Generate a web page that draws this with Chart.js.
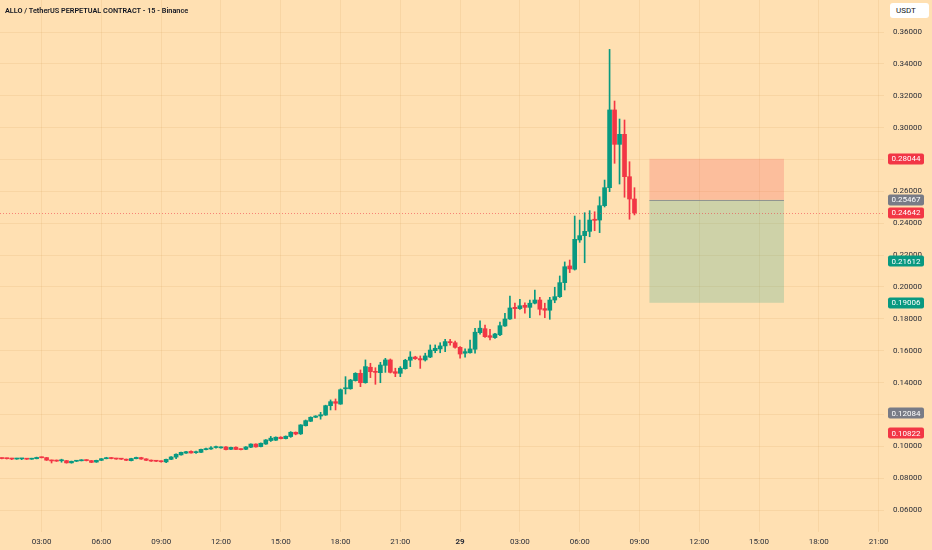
<!doctype html>
<html lang="en">
<head>
<meta charset="utf-8">
<title>ALLO / TetherUS PERPETUAL CONTRACT - 15 - Binance</title>
<script src="https://cdn.jsdelivr.net/npm/chart.js"></script>
<style>
  html, body { margin: 0; padding: 0; background: #ffe0b2; }
  #wrap { position: relative; width: 932px; height: 550px; }
  #title { position: absolute; left: 5px; top: 6px; font: 600 7.3px Roboto, sans-serif; color: #131722; }
  #unit { position: absolute; left: 890px; top: 3px; width: 33px; height: 15px; padding-left: 6px;
          background: #fff; border-radius: 3px; font: 8px Roboto, sans-serif; line-height: 15px; color: #131722; }
</style>
</head>
<body>
<div id="wrap">
  <canvas id="chart"></canvas>
  <div id="title">ALLO / TetherUS PERPETUAL CONTRACT - 15 - Binance</div>
  <div id="unit">USDT</div>
</div>
<script>
// 15 minute bars, first one opens 01:00 on the 28th (x axis is hours from 00:00 on the 28th)
const firstBar = 1;
const barStep = 0.25;

const open = [
  0.0925,0.0924,0.0923,0.0920,0.0921,0.0922,0.0919,0.0922,0.0931,0.0929,
  0.0913,0.0912,0.0909,0.0910,0.0896,0.0906,0.0909,0.0914,0.0910,0.0901,
  0.0912,0.0922,0.0928,0.0923,0.0921,0.0919,0.0910,0.0922,0.0929,0.0921,
  0.0913,0.0908,0.0907,0.0902,0.0918,0.0932,0.0946,0.0957,0.0968,0.0960,
  0.0962,0.0979,0.0983,0.0992,0.0990,0.0996,0.0981,0.0994,0.0982,0.0981,
  0.0994,0.1014,0.0998,0.1014,0.1036,0.1038,0.1057,0.1048,0.1061,0.1088,
  0.1078,0.1129,0.1157,0.1182,0.1190,0.1196,0.1255,0.1280,0.1265,0.1361,
  0.1361,0.1412,0.1458,0.1399,0.1496,0.1468,0.1462,0.1508,0.1542,0.1468,
  0.1458,0.1487,0.1540,0.1560,0.1550,0.1542,0.1560,0.1600,0.1611,0.1630,
  0.1657,0.1650,0.1621,0.1584,0.1587,0.1609,0.1713,0.1738,0.1694,0.1682,
  0.1700,0.1755,0.1799,0.1872,0.1864,0.1885,0.1872,0.1898,0.1918,0.1864,
  0.1854,0.1918,0.1939,0.2027,0.2132,0.2111,0.2295,0.2322,0.2349,0.2425,
  0.2420,0.2510,0.2623,0.3111,0.2895,0.2958,0.2692,0.2552
];
const high = [
  0.0927,0.0926,0.0925,0.0925,0.0924,0.0924,0.0925,0.0932,0.0933,0.0930,
  0.0914,0.0914,0.0919,0.0911,0.0907,0.0912,0.0916,0.0916,0.0911,0.0913,
  0.0923,0.0931,0.0930,0.0925,0.0923,0.0920,0.0925,0.0932,0.0931,0.0922,
  0.0914,0.0910,0.0908,0.0920,0.0935,0.0952,0.0964,0.0968,0.0971,0.0970,
  0.0983,0.0988,0.0998,0.1002,0.0997,0.0998,0.0995,0.0996,0.0984,0.0998,
  0.1016,0.1016,0.1021,0.1042,0.1062,0.1059,0.1060,0.1065,0.1092,0.1090,
  0.1136,0.1165,0.1185,0.1192,0.1213,0.1258,0.1291,0.1297,0.1360,0.1437,
  0.1420,0.1462,0.1479,0.1542,0.1521,0.1493,0.1527,0.1552,0.1548,0.1490,
  0.1500,0.1546,0.1594,0.1565,0.1567,0.1584,0.1636,0.1636,0.1650,0.1672,
  0.1672,0.1660,0.1625,0.1611,0.1667,0.1741,0.1788,0.1760,0.1734,0.1709,
  0.1780,0.1835,0.1943,0.1898,0.1923,0.1901,0.1918,0.1981,0.1935,0.1898,
  0.1935,0.1998,0.2069,0.2157,0.2169,0.2445,0.2420,0.2466,0.2479,0.2472,
  0.2566,0.2671,0.3491,0.3167,0.3054,0.3048,0.2786,0.2623
];
const low = [
  0.0921,0.0920,0.0916,0.0918,0.0916,0.0917,0.0918,0.0921,0.0927,0.0911,
  0.0895,0.0905,0.0900,0.0894,0.0894,0.0904,0.0908,0.0908,0.0897,0.0899,
  0.0910,0.0921,0.0921,0.0918,0.0917,0.0910,0.0908,0.0921,0.0918,0.0910,
  0.0905,0.0904,0.0900,0.0897,0.0916,0.0923,0.0944,0.0955,0.0956,0.0955,
  0.0960,0.0977,0.0980,0.0988,0.0988,0.0977,0.0979,0.0978,0.0977,0.0979,
  0.0992,0.0994,0.0996,0.1012,0.1030,0.1036,0.1046,0.1046,0.1056,0.1072,
  0.1074,0.1127,0.1155,0.1180,0.1170,0.1194,0.1228,0.1228,0.1263,0.1328,
  0.1358,0.1409,0.1374,0.1396,0.1431,0.1389,0.1399,0.1464,0.1460,0.1437,
  0.1437,0.1484,0.1500,0.1545,0.1489,0.1535,0.1556,0.1587,0.1587,0.1594,
  0.1634,0.1615,0.1553,0.1559,0.1584,0.1584,0.1704,0.1683,0.1667,0.1677,
  0.1695,0.1752,0.1796,0.1803,0.1859,0.1835,0.1807,0.1893,0.1824,0.1807,
  0.1797,0.1901,0.1934,0.1981,0.2090,0.2106,0.2280,0.2152,0.2315,0.2353,
  0.2341,0.2502,0.2598,0.2776,0.2646,0.2563,0.2425,0.2452
];
const close = [
  0.0923,0.0922,0.0920,0.0923,0.0923,0.0919,0.0923,0.0930,0.0928,0.0913,
  0.0908,0.0907,0.0910,0.0896,0.0906,0.0910,0.0914,0.0910,0.0899,0.0912,
  0.0922,0.0928,0.0923,0.0920,0.0919,0.0912,0.0923,0.0930,0.0920,0.0912,
  0.0907,0.0906,0.0903,0.0918,0.0933,0.0950,0.0962,0.0966,0.0958,0.0963,
  0.0981,0.0985,0.0990,0.0994,0.0994,0.0979,0.0993,0.0980,0.0979,0.0996,
  0.1014,0.0996,0.1019,0.1040,0.1051,0.1057,0.1048,0.1063,0.1088,0.1077,
  0.1134,0.1161,0.1182,0.1190,0.1198,0.1255,0.1280,0.1270,0.1355,0.1364,
  0.1416,0.1458,0.1399,0.1500,0.1468,0.1464,0.1510,0.1542,0.1464,0.1458,
  0.1490,0.1540,0.1560,0.1550,0.1542,0.1567,0.1604,0.1615,0.1630,0.1657,
  0.1650,0.1621,0.1579,0.1594,0.1611,0.1716,0.1741,0.1688,0.1684,0.1705,
  0.1757,0.1799,0.1868,0.1864,0.1882,0.1872,0.1898,0.1918,0.1860,0.1854,
  0.1918,0.1939,0.2027,0.2127,0.2113,0.2299,0.2322,0.2349,0.2420,0.2418,
  0.2510,0.2623,0.3111,0.2895,0.2958,0.2692,0.2552,0.24642
];

const timeTicks = [3, 6, 9, 12, 15, 18, 21, 24, 27, 30, 33, 36, 39, 42, 45];
const priceTicks = [0.06, 0.08, 0.10, 0.12, 0.14, 0.16, 0.18, 0.20, 0.22, 0.24, 0.26, 0.28, 0.30, 0.32, 0.34, 0.36];

// short position tool
const entryPrice = 0.25467;
const stopPrice = 0.28044;
const targetPrice = 0.19006;
const boxFrom = 33.5;   // 09:30 on the 29th
const boxTo = 40.25;    // 16:15 on the 29th

const lastPrice = 0.24642;
const badgePrices = [0.28044, 0.25467, 0.24642, 0.21612, 0.19006, 0.12084, 0.10822];
const badgeKinds  = ['down', 'gray', 'down', 'up', 'up', 'gray', 'down'];

const UP = '#089981', DOWN = '#f23645', GRAY = '#787b86';
const kindColor = { up: UP, down: DOWN, gray: GRAY };

const barX = open.map((o, i) => firstBar + i * barStep);
const colors = open.map((o, i) => close[i] >= o ? UP : DOWN);

function timeLabel(h) {
  if (h === 24) return '29';
  return String(h % 24).padStart(2, '0') + ':00';
}

const overlay = {
  id: 'overlay',
  beforeDatasetsDraw(chart) {
    const { ctx, scales: { x, y } } = chart;
    const x0 = x.getPixelForValue(boxFrom), x1 = x.getPixelForValue(boxTo);
    const ys = y.getPixelForValue(stopPrice);
    const ye = y.getPixelForValue(entryPrice);
    const yt = y.getPixelForValue(targetPrice);
    ctx.save();
    ctx.fillStyle = 'rgba(242,54,69,0.2)';
    ctx.fillRect(x0, ys, x1 - x0, ye - ys);
    ctx.fillStyle = 'rgba(8,153,129,0.2)';
    ctx.fillRect(x0, ye, x1 - x0, yt - ye);
    ctx.strokeStyle = 'rgba(120,123,134,0.7)';
    ctx.lineWidth = 1;
    ctx.beginPath();
    ctx.moveTo(x0, Math.round(ye) + 0.5);
    ctx.lineTo(x1, Math.round(ye) + 0.5);
    ctx.stroke();
    ctx.restore();
  },
  afterDatasetsDraw(chart) {
    const { ctx, chartArea: a, scales: { y } } = chart;
    const yl = Math.round(y.getPixelForValue(lastPrice)) + 0.5;
    ctx.save();
    ctx.strokeStyle = 'rgba(242,54,69,0.55)';
    ctx.lineWidth = 1;
    ctx.setLineDash([1, 2]);
    ctx.beginPath();
    ctx.moveTo(a.left, yl);
    ctx.lineTo(a.right, yl);
    ctx.stroke();
    ctx.restore();
  },
  afterDraw(chart) {
    const { ctx, chartArea: a, scales: { y } } = chart;
    ctx.save();
    ctx.font = '8px Roboto, sans-serif';
    ctx.textAlign = 'center';
    ctx.textBaseline = 'middle';
    badgePrices.forEach((p, i) => {
      const yy = y.getPixelForValue(p);
      ctx.fillStyle = kindColor[badgeKinds[i]];
      ctx.beginPath();
      ctx.roundRect(a.right + 4, Math.round(yy) - 5.5, 36, 11, 2);
      ctx.fill();
      ctx.fillStyle = '#ffffff';
      ctx.fillText(p.toFixed(5), a.right + 22, yy + 0.5);
    });
    ctx.restore();
  }
};

new Chart(document.getElementById('chart'), {
  type: 'bar',
  data: {
    datasets: [
      {
        label: 'body',
        data: barX.map((x, i) => ({ x: x, y: [open[i], close[i]] })),
        backgroundColor: colors,
        barThickness: 4,
        minBarLength: 1,
        grouped: false
      },
      {
        label: 'wick',
        data: barX.map((x, i) => ({ x: x, y: [low[i], high[i]] })),
        backgroundColor: colors,
        barThickness: 1,
        grouped: false
      }
    ]
  },
  plugins: [overlay],
  options: {
    responsive: true,
    maintainAspectRatio: false,
    animation: false,
    layout: { padding: 0 },
    plugins: { legend: { display: false }, tooltip: { enabled: false } },
    scales: {
      x: {
        type: 'linear',
        min: 0.913,
        max: 45.27,
        offset: false,
        border: { display: false },
        grid: { color: 'rgba(200,140,60,0.12)', drawTicks: false, offset: false },
        afterBuildTicks(s) { s.ticks = timeTicks.map(v => ({ value: v })); },
        afterFit(s) { s.height = 18; s.paddingLeft = 0; s.paddingRight = 0; },
        ticks: {
          padding: 5,
          maxRotation: 0,
          autoSkip: false,
          color: '#2a2e39',
          font: c => ({ family: 'Roboto', size: 8, weight: c.tick && c.tick.value === 24 ? 'bold' : 'normal' }),
          callback: v => timeLabel(v)
        }
      },
      y: {
        position: 'right',
        min: 0.0462,
        max: 0.3801,
        border: { display: false },
        grid: { color: 'rgba(200,140,60,0.12)', drawTicks: false },
        afterBuildTicks(s) { s.ticks = priceTicks.map(v => ({ value: v })); },
        afterFit(s) { s.width = 48; s.paddingTop = 0; s.paddingBottom = 0; },
        ticks: {
          padding: 9,
          color: '#2a2e39',
          font: { family: 'Roboto', size: 8 },
          callback: v => v.toFixed(5)
        }
      }
    }
  }
});
</script>
</body>
</html>
